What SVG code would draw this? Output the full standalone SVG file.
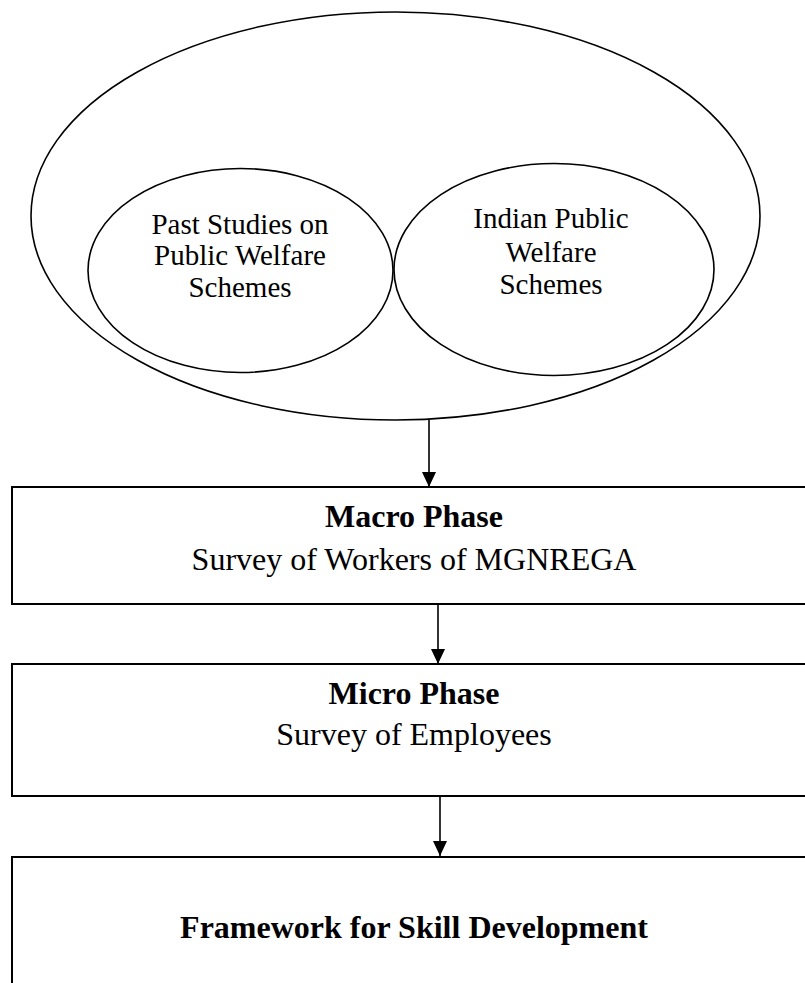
<svg xmlns="http://www.w3.org/2000/svg" width="805" height="983" viewBox="0 0 805 983">
<defs>
<style>
.shape{fill:none;stroke:#000;stroke-width:1.6}
.box{fill:#fff;stroke:#000;stroke-width:2}
.t{font-family:"Liberation Serif","Times New Roman",serif;fill:#000;text-anchor:middle}
.s28{font-size:29px}
.s32{font-size:32px}
.b{font-weight:bold}
.conn{stroke:#000;stroke-width:1.6;fill:none}
</style>
<marker id="arrow" markerUnits="userSpaceOnUse" markerWidth="16" markerHeight="16" refX="15" refY="7" orient="auto">
<path d="M0,0 L15,7 L0,14 Z" fill="#000"/>
</marker>
</defs>
<rect width="805" height="983" fill="#fff"/>
<g id="outer">
<ellipse class="shape" cx="395.5" cy="216" rx="364.5" ry="204"/>
</g>
<g id="past-studies">
<ellipse class="shape" cx="240.5" cy="270.5" rx="152.5" ry="102"/>
<text class="t s28" x="240" y="234">Past Studies on</text>
<text class="t s28" x="240" y="265">Public Welfare</text>
<text class="t s28" x="240" y="297">Schemes</text>
</g>
<g id="indian-schemes">
<ellipse class="shape" cx="554" cy="269.5" rx="160" ry="106"/>
<text class="t s28" x="551" y="228">Indian Public</text>
<text class="t s28" x="551" y="262">Welfare</text>
<text class="t s28" x="551" y="294">Schemes</text>
</g>
<g id="macro">
<rect class="box" x="12" y="487" width="805" height="117"/>
<text class="t s32 b" x="414" y="527">Macro Phase</text>
<text class="t s32" x="414" y="570">Survey of Workers of MGNREGA</text>
</g>
<g id="micro">
<rect class="box" x="12" y="664" width="805" height="132"/>
<text class="t s32 b" x="414" y="704">Micro Phase</text>
<text class="t s32" x="414" y="745">Survey of Employees</text>
</g>
<g id="framework">
<rect class="box" x="12" y="857" width="805" height="140"/>
<text class="t s32 b" x="414" y="938">Framework for Skill Development</text>
</g>
<g id="connectors">
<line class="conn" x1="429" y1="420" x2="429" y2="487" marker-end="url(#arrow)"/>
<line class="conn" x1="438" y1="604" x2="438" y2="664" marker-end="url(#arrow)"/>
<line class="conn" x1="440" y1="797" x2="440" y2="856" marker-end="url(#arrow)"/>
</g>
</svg>
